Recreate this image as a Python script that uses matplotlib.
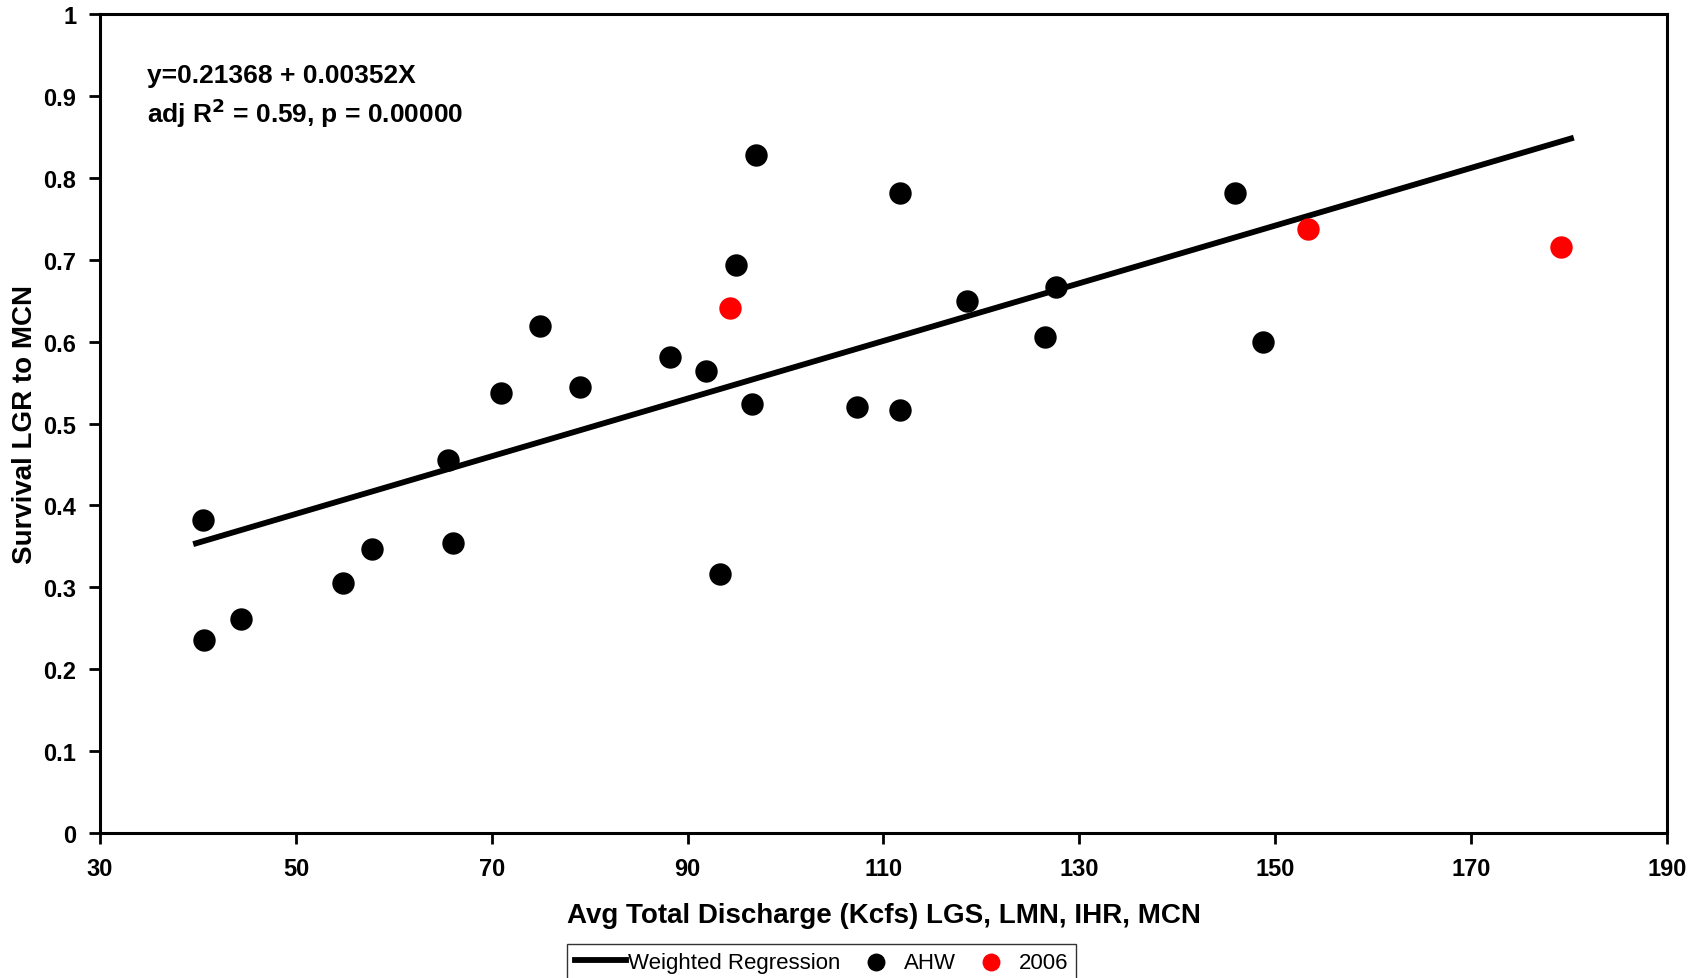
import matplotlib
matplotlib.use('Agg')
import numpy as np
import matplotlib.pyplot as plt

plt.rcParams['font.family'] = ['Liberation Sans', 'DejaVu Sans']

# AHW points (discharge kcfs, survival)
ahw_x = [40.5, 40.6, 44.4, 54.8, 57.8, 65.5, 66.0, 70.9, 74.9, 79.0, 88.2, 91.9,
         93.3, 94.9, 97.0, 96.6, 107.3, 111.7, 111.7, 118.5, 126.5, 127.6, 145.9, 148.7]
ahw_y = [0.382, 0.236, 0.261, 0.305, 0.347, 0.456, 0.354, 0.537, 0.619, 0.545, 0.581, 0.564,
         0.316, 0.694, 0.828, 0.524, 0.520, 0.781, 0.517, 0.650, 0.606, 0.667, 0.782, 0.599]

# 2006 points
y2006_x = [94.3, 153.3, 179.2]
y2006_y = [0.641, 0.737, 0.715]

# regression
intercept = 0.21368
slope = 0.00352
reg_x = np.array([39.8, 180.2])

fig = plt.figure(figsize=(17.01, 9.79), dpi=100)
ax = fig.add_axes([0.0588, 0.148, 0.9212, 0.8367])

ax.plot(reg_x, intercept + slope * reg_x, color='black', lw=4.2, label='Weighted Regression', zorder=2)
ax.scatter(ahw_x, ahw_y, s=260, color='black', label='AHW', zorder=3, linewidths=0)
ax.scatter(y2006_x, y2006_y, s=260, color='#ff0000', label='2006', zorder=3, linewidths=0)

ax.set_xlim(30, 190)
ax.set_ylim(0, 1)
ax.set_xticks(np.arange(30, 191, 20))
ax.set_yticks(np.arange(0, 1.01, 0.1))
ax.set_yticklabels(['0', '0.1', '0.2', '0.3', '0.4', '0.5', '0.6', '0.7', '0.8', '0.9', '1'])
ax.tick_params(axis='both', labelsize=17, width=2, length=8, direction='out', pad=9)
for lab in ax.get_xticklabels() + ax.get_yticklabels():
    lab.set_fontweight('bold')
for sp in ax.spines.values():
    sp.set_linewidth(2.2)

ax.set_xlabel('Avg Total Discharge (Kcfs) LGS, LMN, IHR, MCN', fontsize=20, fontweight='bold', labelpad=16)
ax.set_ylabel('Survival LGR to MCN', fontsize=20, fontweight='bold', labelpad=4)

ax.text(0.03, 0.925, 'y=0.21368 + 0.00352X', transform=ax.transAxes, fontsize=19, fontweight='bold', va='center')
ax.text(0.03, 0.88, r'adj R$^\mathbf{2}$ = 0.59, p = 0.00000', transform=ax.transAxes, fontsize=19, fontweight='bold', va='center')

leg = fig.legend(loc='upper center', bbox_to_anchor=(0.483, 1 - 945 / 979), ncol=3, fontsize=16,
                 frameon=True, fancybox=False, edgecolor='black', handlelength=2.3, handletextpad=0.1,
                 columnspacing=0.45, borderaxespad=0, markerscale=0.8, borderpad=0.35)
leg.get_frame().set_linewidth(1.0)

fig.savefig('out.png', dpi=100)
